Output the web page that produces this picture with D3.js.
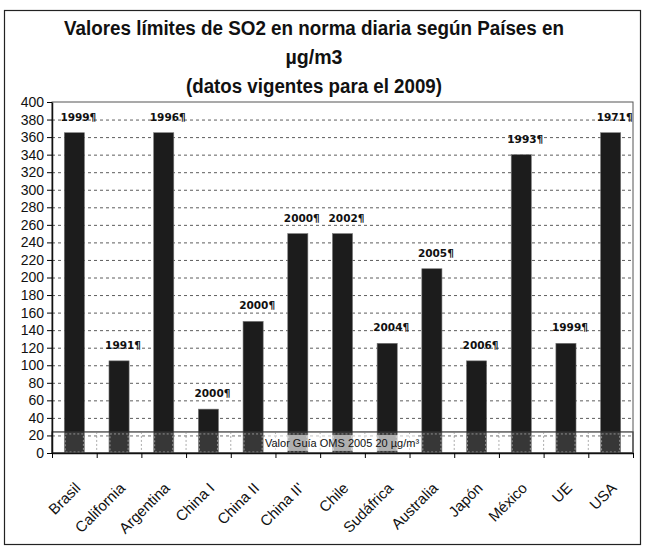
<!DOCTYPE html>
<html>
<head>
<meta charset="utf-8">
<script src="https://cdn.jsdelivr.net/npm/d3@7"></script>
<style>
  body { margin: 0; background: #fff; }
  svg { display: block; }
  .narrow { font-family: "Liberation Sans Narrow", "Arial Narrow", "Liberation Sans", Arial, sans-serif; }
</style>
</head>
<body>
<svg id="chart" width="645" height="550"></svg>
<script>
// datos
var paises = ["Brasil", "California", "Argentina", "China I", "China II", "China II'", "Chile", "Sudáfrica", "Australia", "Japón", "México", "UE", "USA"];
var valores = [365, 105, 365, 50, 150, 250, 250, 125, 210, 105, 340, 125, 365];
var anios = ["1999", "1991", "1996", "2000", "2000", "2000", "2002", "2004", "2005", "2006", "1993", "1999", "1971"];
var yTicks = d3.range(0, 401, 20);
var guia = 24; // banda del valor guía
var titulo = ["Valores límites de SO2 en norma diaria según Países en", "µg/m3", "(datos vigentes para el 2009)"];

var svg = d3.select("#chart");
var pLeft = 52, pRight = 633, pTop = 102, pBottom = 453;

// marco exterior
svg.append("rect")
  .attr("x", 4.5).attr("y", 10.5)
  .attr("width", 636).attr("height", 534)
  .attr("fill", "none").attr("stroke", "#222").attr("stroke-width", 1.2);

// titulo
var tY = [35, 64, 93];
var tLen = [500, 57, 256];
titulo.forEach(function(t, i) {
  svg.append("text")
    .attr("class", "narrow")
    .attr("x", 314).attr("y", tY[i])
    .attr("text-anchor", "middle")
    .attr("font-size", 20).attr("font-weight", "bold")
    .attr("fill", "#111")
    .attr("textLength", tLen[i]).attr("lengthAdjust", "spacingAndGlyphs")
    .text(t);
});

var x = d3.scaleBand()
  .domain(paises)
  .range([pLeft, pRight])
  .paddingInner(0.55)
  .paddingOuter(0.275);

var xi = d3.scaleLinear().domain([0, paises.length]).range([pLeft, pRight]);

var y = d3.scaleLinear().domain([0, 400]).range([pBottom, pTop]);

// rejilla
svg.append("g")
  .selectAll("line")
  .data(yTicks.filter(function(d) { return d > 0 && d < 400; }))
  .enter().append("line")
  .attr("x1", pLeft).attr("x2", pRight)
  .attr("y1", function(d) { return y(d) + 0.5; })
  .attr("y2", function(d) { return y(d) + 0.5; })
  .attr("stroke", "#333").attr("stroke-width", 0.8)
  .attr("stroke-dasharray", "3,3");

// barras
svg.append("g")
  .selectAll("rect")
  .data(valores)
  .enter().append("rect")
  .attr("x", function(d, i) { return x(paises[i]); })
  .attr("y", function(d) { return y(d); })
  .attr("width", x.bandwidth())
  .attr("height", function(d) { return y(0) - y(d); })
  .attr("fill", "#1c1c1c")
  .attr("stroke", "#777").attr("stroke-width", 0.6);

// banda valor guia
var banda = svg.append("g");
banda.append("rect")
  .attr("x", pLeft).attr("y", y(guia))
  .attr("width", pRight - pLeft).attr("height", y(0) - y(guia))
  .attr("fill", "#fff").attr("fill-opacity", 0.12)
  .attr("stroke", "#333").attr("stroke-width", 1.2);
banda.selectAll("rect.celda")
  .data(paises)
  .enter().append("rect")
  .attr("class", "celda")
  .attr("x", function(d) { return x(d) + 1; })
  .attr("y", y(guia) + 2)
  .attr("width", x.bandwidth() - 2)
  .attr("height", y(0) - y(guia) - 3)
  .attr("fill", "none")
  .attr("stroke", "#aaa").attr("stroke-width", 0.8)
  .attr("stroke-dasharray", "2,2");
banda.selectAll("line.sep")
  .data(d3.range(1, paises.length))
  .enter().append("line")
  .attr("class", "sep")
  .attr("x1", function(d) { return xi(d); }).attr("x2", function(d) { return xi(d); })
  .attr("y1", y(guia)).attr("y2", y(0))
  .attr("stroke", "#888").attr("stroke-width", 0.7)
  .attr("stroke-dasharray", "2,2");
banda.append("rect")
  .attr("x", 266).attr("y", y(guia) + 3)
  .attr("width", 152).attr("height", 16)
  .attr("fill", "#fff").attr("fill-opacity", 0.6);
banda.append("text")
  .attr("class", "narrow")
  .attr("x", 342).attr("y", y(guia) + 15)
  .attr("text-anchor", "middle")
  .attr("font-size", 11).attr("fill", "#111")
  .text("Valor Guía OMS 2005 20 µg/m³");

// borde del area
svg.append("rect")
  .attr("x", pLeft).attr("y", pTop)
  .attr("width", pRight - pLeft).attr("height", pBottom - pTop)
  .attr("fill", "none").attr("stroke", "#555").attr("stroke-width", 1);

// etiquetas de año
svg.append("g")
  .selectAll("text")
  .data(anios)
  .enter().append("text")
  .attr("x", function(d, i) { return x(paises[i]) + x.bandwidth() / 2 + 4; })
  .attr("y", function(d, i) { return y(valores[i]) - 12; })
  .attr("text-anchor", "middle")
  .attr("font-family", "DejaVu Sans, Verdana, sans-serif")
  .attr("font-size", 10.5).attr("font-weight", "bold")
  .attr("fill", "#111")
  .text(function(d) { return d + "¶"; });

// eje y
var yAxis = svg.append("g")
  .attr("transform", "translate(" + pLeft + ",0)")
  .call(d3.axisLeft(y).tickValues(yTicks).tickSize(5).tickPadding(3).tickSizeOuter(0));
yAxis.selectAll("text")
  .attr("class", "narrow")
  .attr("font-size", 14).attr("fill", "#111");
yAxis.select(".domain").attr("stroke", "#111").attr("stroke-width", 1.5);

// eje x
var xAxis = svg.append("g")
  .attr("transform", "translate(0," + pBottom + ")")
  .call(d3.axisBottom(xi).tickValues(d3.range(0, paises.length + 1)).tickSize(5).tickFormat("").tickSizeOuter(0));
xAxis.select(".domain").attr("stroke", "#111").attr("stroke-width", 1.5);

svg.append("g")
  .selectAll("text")
  .data(paises)
  .enter().append("text")
  .attr("font-family", "Liberation Sans, Arial, sans-serif")
  .attr("font-size", 15).attr("fill", "#111")
  .attr("text-anchor", "end")
  .attr("transform", function(d) {
    return "translate(" + (x(d) + x.bandwidth() / 2 + 7) + "," + 489 + ") rotate(-45)";
  })
  .text(function(d) { return d; });
</script>
</body>
</html>
